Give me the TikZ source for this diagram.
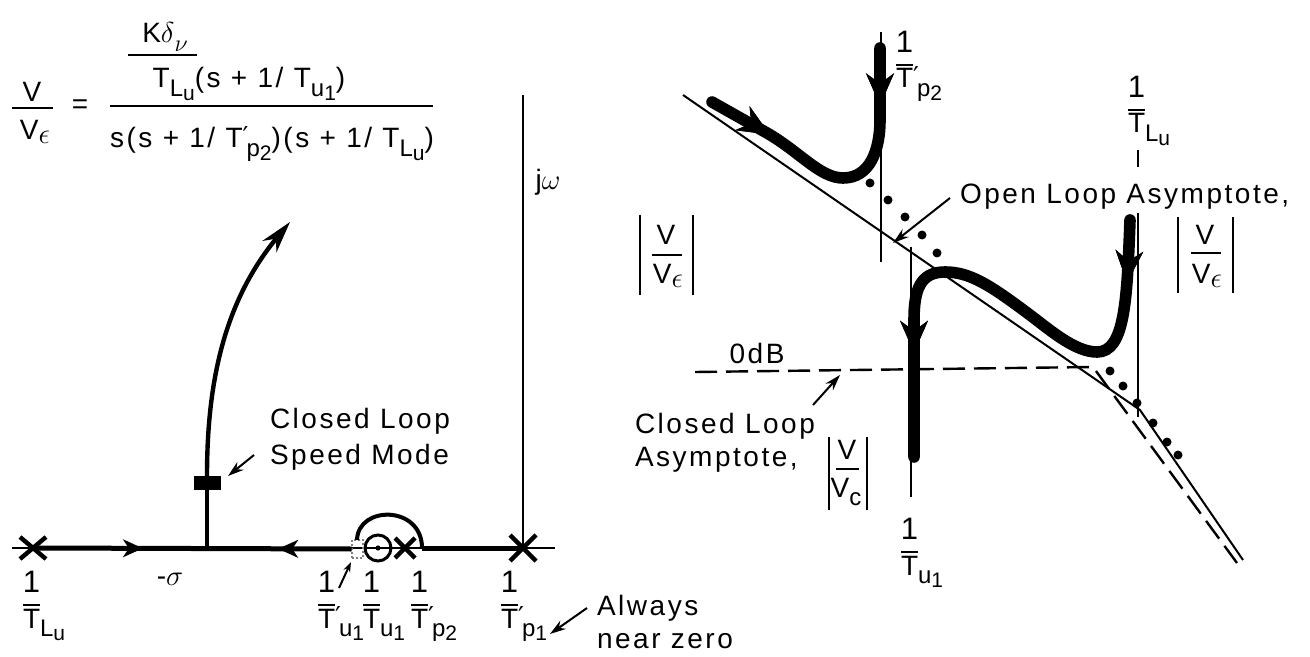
\documentclass[tikz,border=0pt]{standalone}
\usepackage{fontspec}
\setmainfont{Liberation Sans}[LetterSpace=9]
\newfontfamily\dejavu{DejaVu Sans}
\usetikzlibrary{arrows.meta,decorations.markings,shapes.misc}

\newlength\Tw
\newcommand\sub[1]{\raisebox{-0.55ex}{\fontsize{12}{12}\selectfont #1}}
\newcommand\ssub[1]{\raisebox{-0.35ex}{\fontsize{10.5}{10.5}\selectfont #1}}
\newcommand\pr{\raisebox{0.15ex}{\dejavu\fontsize{13}{13}\selectfont ′}\kern-1pt}
\newcommand\eps{\raisebox{-0.25ex}{\fontsize{15}{15}\selectfont$\epsilon$}}
\newcommand\recip[1]{\settowidth\Tw{T}\vbox{\hbox to\Tw{\hss\fontsize{15.5}{15.5}\selectfont 1\hss}\kern5.5pt\hrule height 1.1pt\kern1.5pt\hbox{T}}#1}

\begin{document}
\begin{tikzpicture}[x=0.5pt,y=-0.5pt,
 every node/.style={inner sep=0pt,outer sep=0pt,font=\fontsize{14}{17}\selectfont},
 fbar/.style={line width=1.1pt},
 axln/.style={line width=1pt},
 axthick/.style={line width=2.5pt},
 locus/.style={line width=2.2pt},
 xmk/.style={draw,cross out,line width=2.2pt},
 bode/.style={line width=5.8pt,line cap=round},
 asym/.style={line width=1pt},
 cl/.style={line width=1.2pt,dash pattern=on 11pt off 4.5pt},
 leader/.style={line width=1pt,-{Stealth[length=8pt,width=5pt]}},
 absbar/.style={line width=1.2pt},
 dotm/.style={fill,circle,minimum size=4.5pt},
 fwd/.style={decoration={markings,mark=at position #1 with {\arrow{Stealth[length=16pt,width=14pt,line width=0.5pt]}}},postaction={decorate}},
 bwd/.style={decoration={markings,mark=at position #1 with {\arrowreversed{Stealth[length=16pt,width=14pt,line width=0.5pt]}}},postaction={decorate}}
]
\useasboundingbox (0,0) rectangle (1310,657);

% ---------- formula ----------
\node[anchor=base] (vn) at (32,102) {V};
\draw[fbar] (12,108) -- (53,108);
\node[anchor=base] (vd) at (35,140) {V\eps};
\node (eq) at (80,107) {=};
\node[anchor=base] (kd) at (165,43) {K$\delta$\sub{$\nu$}};
\draw[fbar] (128,55) -- (197,55);
\node[anchor=base] (nd) at (249,88) {T\sub{L\ssub{u}}(s + 1/ T\sub{u\ssub{1}})};
\draw[fbar] (110,106) -- (433,106);
\node[anchor=base] (dd) at (272,148) {s(s + 1/ T\pr\sub{p\ssub{2}})(s + 1/ T\sub{L\ssub{u}})};

% ---------- root locus ----------
\draw[axln] (12,548) -- (555,548);
\draw[axln] (523,95) -- (523,548);
\node (jw) at (548,182) {j$\omega$};

\node[xmk,minimum width=13pt,minimum height=11pt] (pLu) at (33,548) {};
\node[xmk,minimum width=13pt,minimum height=13pt] (pP1) at (523,548) {};
\node[xmk,minimum width=10pt,minimum height=10pt] (pP2) at (405,548) {};
\node[draw,circle,line width=1.5pt,minimum size=13pt] (zU1) at (378,548) {};
\fill (zU1.center) circle (1.3pt);
\node[draw=gray,densely dotted,line width=1pt,minimum width=5.5pt,minimum height=9pt] (zU1p) at (357,549) {};
\node[fill,minimum width=13.5pt,minimum height=7pt] (sq) at (207,483) {};

\draw[axthick,
 decoration={markings,
  mark=at position 0.345 with {\arrow{Stealth[length=10pt,width=9pt,inset=3pt,line width=1pt]}},
  mark=at position 0.77 with {\arrowreversed{Stealth[length=10pt,width=9pt,inset=3pt,line width=1pt]}}},
 postaction={decorate}] (pLu.center) -- (zU1p.west);
\coordinate (arcR) at (422,548);
\draw[axthick] (arcR) -- (pP1.center);
\draw[line width=2pt] (zU1p.north) .. controls (358,505) and (422,505) .. (arcR);

\coordinate (br) at (207,548);
\coordinate (tip) at (290,222);
\draw[locus] (br) -- (sq.south);
\draw[locus,-{Stealth[length=16pt,width=9pt]}] (sq.north) .. controls (207,380) and (225,300) .. (tip);

\node[anchor=base west] (lLu) at (23,628) {\recip{\sub{L\ssub{u}}}};
\node[anchor=base] (lsig) at (170,585) {-$\sigma$};
\node[anchor=base west] (lU1p) at (318,628) {\recip{\pr\sub{u\ssub{1}}}};
\node[anchor=base west] (lU1) at (363,628) {\recip{\sub{u\ssub{1}}}};
\node[anchor=base west] (lP2) at (411,628) {\recip{\pr\sub{p\ssub{2}}}};
\node[anchor=base west] (lP1) at (501,628) {\recip{\pr\sub{p\ssub{1}}}};

\coordinate (u1pS) at (339,588);
\coordinate (u1pT) at (351,562);
\draw[line width=1pt,-{Stealth[length=5pt,width=3.5pt]}] (u1pS) -- (u1pT);

\node[anchor=west,align=left,font=\fontsize{14}{18}\selectfont] (csm) at (270,439) {Closed Loop\\Speed Mode};
\coordinate (csmS) at (254,455);
\coordinate (csmT) at (228,476);
\draw[leader] (csmS) -- (csmT);

\node[anchor=west,align=left,font=\fontsize{14}{16.5}\selectfont] (anz) at (597,622) {Always\\near zero};
\coordinate (anzS) at (587,608);
\coordinate (anzT) at (550,634);
\draw[leader] (anzS) -- (anzT);

% ---------- Bode plot ----------
\coordinate (a0) at (683,95);
\coordinate (a1) at (1140,410);
\coordinate (a2) at (1243,560);
\draw[asym] (a0) -- (a1) -- (a2);
\coordinate (c0) at (695,372);
\coordinate (c1) at (1093,367);
\coordinate (c2) at (1237,563);
\draw[cl] (c0) -- (c1) -- (c2);

\draw[asym] (881,32) -- (881,262);
\draw[asym] (911,247) -- (911,497);
\draw[asym] (1138,150) -- (1138,167);
\draw[asym] (1138,213) -- (1138,417);

\draw[bode,fwd=0.22,bwd=0.81] (712,102) -- (767,133) .. controls (800,152) and (820,178) .. (843,178) .. controls (870,178) and (880,150) .. (880,120) -- (880,48);
\draw[bode,fwd=0.12,fwd=0.80] (1130,220) .. controls (1127,300) and (1125,352) .. (1097,352) .. controls (1075,352) and (1050,330) .. (1030,315) .. controls (990,285) and (970,272) .. (945,272) .. controls (920,272) and (914,290) .. (914,320) -- (914,457);

\foreach \p [count=\i] in {(870,183),(888,200),(905,217),(922,235),(937,253),(1110,371),(1123,386),(1137,403),(1153,423),(1167,442),(1178,455)}
  \node[dotm] (d\i) at \p {};

\node[anchor=base west] (rP2) at (896,88) {\recip{\pr\sub{p\ssub{2}}}};
\node[anchor=base west] (rLu) at (1128,133) {\recip{\sub{L\ssub{u}}}};
\node[anchor=base west] (rU1) at (901,575) {\recip{\sub{u\ssub{1}}}};

\node[anchor=west] (olt) at (960,197) {Open Loop Asymptote,};
\coordinate (olS) at (950,198);
\coordinate (olT) at (893,243);
\draw[leader] (olS) -- (olT);

\draw[absbar] (640,215) -- (640,295);
\draw[absbar] (693,215) -- (693,295);
\node (lv1) at (666,235) {V};
\draw[fbar] (652,255) -- (682,255);
\node (lv2) at (668,276) {V\eps};

\draw[absbar] (1178,217) -- (1178,293);
\draw[absbar] (1233,217) -- (1233,293);
\node (rv1) at (1205,235) {V};
\draw[fbar] (1191,253) -- (1221,253);
\node (rv2) at (1207,276) {V\eps};

\node (odb) at (757,353) {0dB};
\node[anchor=west,align=left,font=\fontsize{14}{16.5}\selectfont] (cla) at (635,443) {Closed Loop\\Asymptote,};
\draw[absbar] (829,437) -- (829,510);
\draw[absbar] (867,437) -- (867,510);
\node (cv1) at (847,450) {V};
\draw[fbar] (836,469) -- (859,469);
\node (cv2) at (846,492) {V\sub{c}};
\coordinate (clS) at (813,405);
\coordinate (clT) at (840,375);
\draw[leader] (clS) -- (clT);
\end{tikzpicture}
\end{document}
